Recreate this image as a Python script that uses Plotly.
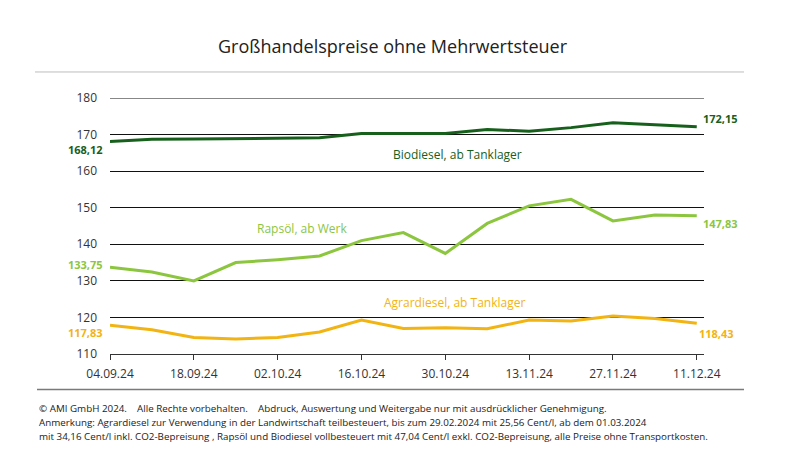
import plotly.graph_objects as go

dates = ["2024-09-04", "2024-09-11", "2024-09-18", "2024-09-25", "2024-10-02",
         "2024-10-09", "2024-10-16", "2024-10-23", "2024-10-30", "2024-11-06",
         "2024-11-13", "2024-11-20", "2024-11-27", "2024-12-04", "2024-12-11"]
biodiesel = [168.12, 168.7, 168.8, 168.9, 169.0, 169.1, 170.3, 170.3, 170.3,
             171.4, 170.9, 171.9, 173.2, 172.7, 172.15]
rapsoel = [133.75, 132.4, 130.0, 135.0, 135.8, 136.8, 141.0, 143.2, 137.5,
           145.7, 150.5, 152.3, 146.4, 148.0, 147.83]
agrardiesel = [117.83, 116.6, 114.5, 114.1, 114.5, 116.0, 119.3, 117.0, 117.2,
               116.9, 119.3, 119.0, 120.4, 119.7, 118.43]

series_names = ["Biodiesel, ab Tanklager", "Rapsöl, ab Werk", "Agrardiesel, ab Tanklager"]
colors = ["#17601c", "#8cc63f", "#f2b413"]
tick_dates = ["2024-09-04", "2024-09-18", "2024-10-02", "2024-10-16",
              "2024-10-30", "2024-11-13", "2024-11-27", "2024-12-11"]
tick_labels = ["04.09.24", "18.09.24", "02.10.24", "16.10.24",
               "30.10.24", "13.11.24", "27.11.24", "11.12.24"]
y_ticks = [110, 120, 130, 140, 150, 160, 170, 180]
y_min, y_max = 110, 180

title_text = "Großhandelspreise ohne Mehrwertsteuer"
GAP = "\u00a0" * 3 + " "
footer_lines = [
    f"© AMI GmbH 2024.{GAP}Alle Rechte vorbehalten.{GAP}Abdruck, Auswertung und Weitergabe nur mit ausdrücklicher Genehmigung.",
    "Anmerkung: Agrardiesel zur Verwendung in der Landwirtschaft teilbesteuert, bis zum 29.02.2024 mit 25,56 Cent/l, ab dem 01.03.2024",
    "mit 34,16 Cent/l inkl. CO2-Bepreisung , Rapsöl und Biodiesel vollbesteuert mit 47,04 Cent/l exkl. CO2-Bepreisung, alle Preise ohne Transportkosten.",
]

# page body has an 8px margin; lay out in page pixels and subtract it
OFF = 8
W, H = 798 - OFF, 456 - OFF
PL, PR, PT, PB = 110, 704, 98.3, 354   # plot area in page pixels
L, T = PL - OFF, PT - OFF
R = W - (PR - OFF)
B = H - (PB - OFF)
PW, PH = PR - PL, PB - PT
FONT = "Open Sans"


def px(x):
    return (x - PL) / PW


def py(y):
    return (PB - y) / PH


fig = go.Figure()
all_series = [biodiesel, rapsoel, agrardiesel]
for name, vals, col in zip(series_names, all_series, colors):
    fig.add_trace(go.Scatter(x=dates, y=vals, mode="lines", name=name,
                             line=dict(color=col, width=3), showlegend=False))


def fmt(v):
    return f"{v:.2f}".replace(".", ",")


# start / end value labels
start_shift = [-8, 3, -7]
end_shift = [8, -8, -10]
end_x = [4, 4, 0]
for vals, col, ss, es, ex in zip(all_series, colors, start_shift, end_shift, end_x):
    fig.add_annotation(x=dates[0], y=vals[0], text=f"<b>{fmt(vals[0])}</b>",
                       showarrow=False, xanchor="right", yanchor="middle",
                       xshift=-5, yshift=ss, font=dict(family=FONT, size=11, color=col))
    fig.add_annotation(x=dates[-1], y=vals[-1], text=f"<b>{fmt(vals[-1])}</b>",
                       showarrow=False, xanchor="left", yanchor="middle",
                       xshift=ex, yshift=es, font=dict(family=FONT, size=11, color=col))

# series name labels
name_pos = [("2024-11-01", 164.6), ("2024-10-06", 144.4), ("2024-10-31 14:00", 124.0)]
for name, (lx, ly), col in zip(series_names, name_pos, colors):
    fig.add_annotation(x=lx, y=ly, text=name, showarrow=False, xanchor="center",
                       yanchor="middle", font=dict(family=FONT, size=12, color=col))

# title
fig.add_annotation(xref="paper", yref="paper", x=px(393), y=py(46), text=title_text,
                   showarrow=False, xanchor="center", yanchor="middle",
                   font=dict(family=FONT, size=18, color="#222222"))

# footer
for i, line in enumerate(footer_lines):
    fig.add_annotation(xref="paper", yref="paper", x=px(37), y=py(408 + i * 14.3),
                       text=line, showarrow=False, xanchor="left", yanchor="middle",
                       font=dict(family=FONT, size=9.8, color="#1a1a1a"))

# top grid line (edge gridline is not drawn by plotly)
fig.add_shape(type="line", xref="paper", yref="y", x0=0, x1=1, y0=y_max, y1=y_max,
              line=dict(color="#111111", width=1), layer="below")

# separator lines
fig.add_shape(type="line", xref="paper", yref="paper", x0=px(35), x1=px(744),
              y0=py(72.3), y1=py(72.3), line=dict(color="#bdbdbd", width=1))
fig.add_shape(type="line", xref="paper", yref="paper", x0=px(37), x1=px(744),
              y0=py(389.5), y1=py(389.5), line=dict(color="#7a7a7a", width=1.5))

fig.update_layout(
    width=W, height=H,
    margin=dict(l=L, r=R, t=T, b=B, pad=0),
    paper_bgcolor="white", plot_bgcolor="white",
    font=dict(family=FONT, size=12, color="#333333"),
    xaxis=dict(type="date", range=["2024-09-04", "2024-12-12 05:00"],
               tickmode="array", tickvals=tick_dates, ticktext=tick_labels,
               showgrid=False, zeroline=False, showline=True, linecolor="#333333",
               linewidth=1, ticks="outside", ticklen=5, tickcolor="#333333",
               tickfont=dict(family=FONT, size=12, color="#333333"),
               ticklabelstandoff=4, fixedrange=True),
    yaxis=dict(range=[y_min, y_max], tickmode="array", tickvals=y_ticks,
               showgrid=True, gridcolor="#111111", gridwidth=1, zeroline=False,
               showline=False, ticks="", ticklabelstandoff=12,
               tickfont=dict(family=FONT, size=12, color="#333333"), fixedrange=True),
)

fig.write_html("out.html")
